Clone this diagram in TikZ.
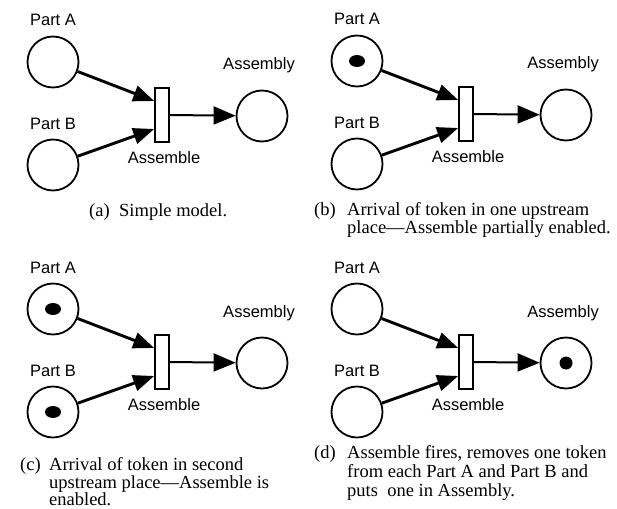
\documentclass[tikz,border=0pt]{standalone}
\usepackage{fontspec}
\setmainfont{Liberation Serif}
\newfontfamily\labfont{Liberation Sans}
\usetikzlibrary{arrows.meta,calc,shapes.geometric}
\tikzset{
  place/.style={circle,draw,line width=1.8pt,minimum size=51pt,inner sep=0pt},
  trans/.style={rectangle,draw,line width=1.6pt,fill=white,minimum width=14pt,minimum height=54pt,inner sep=0pt},
  lab/.style={font=\labfont\fontsize{16.5}{18}\selectfont,anchor=base,inner sep=0pt},
  captext/.style={font=\fontsize{18.5}{19}\selectfont,anchor=base west,inner sep=0pt},
  inarrow/.style={line width=2.9pt,-{Triangle[length=21pt,width=16pt]}},
  outarrow/.style={line width=2pt,-{Triangle[length=22pt,width=18pt]}},
  tokenoval/.style={ellipse,fill=black,minimum width=16pt,minimum height=12pt,inner sep=0pt},
  tokenround/.style={circle,fill=black,minimum size=13pt,inner sep=0pt},
}
\begin{document}
\begin{tikzpicture}[x=1pt,y=-1pt]
\useasboundingbox (0,0) rectangle (617,508);
\foreach \px/\py/\pre in {0/0/a,304/-1/b,0/247/c,304/247/d}{
\begin{scope}[shift={(\px,\py)},name prefix=\pre-]
  \node[place] (PA) at (53,62) {};
  \node[place] (PB) at (53,165) {};
  \node[trans] (T) at (162,115) {};
  \node[place] (AS) at (262,116) {};
  \node[lab] (lPA) at (53,26) {Part A};
  \node[lab] (lPB) at (53,129) {Part B};
  \node[lab] (lAS) at (259,70) {Assembly};
  \node[lab] (lT) at (164,163) {Assemble};
  \coordinate (ta) at ($(T.west)+(0,-14)$);
  \coordinate (tb) at ($(T.west)+(0,14)$);
  \draw[inarrow] (PA) -- (ta);
  \draw[inarrow] (PB) -- (tb);
  \draw[outarrow] (T.east) -- (AS);
\end{scope}
}
\node[tokenoval] (tb1) at (b-PA) {};
\node[tokenoval] (tc1) at (c-PA) {};
\node[tokenoval] (tc2) at (c-PB) {};
\node[tokenround] (td1) at (d-AS) {};
% captions
\node[captext] (ca0) at (89,216) {(a)};
\node[captext] (ca1) at (119,216) {Simple model.};
\node[captext] (cb0) at (314,215) {(b)};
\node[captext] (cb1) at (347,215) {Arrival of token in one upstream};
\node[captext] (cb2) at (347,233) {place---Assemble partially enabled.};
\node[captext] (cc0) at (20,470) {(c)};
\node[captext] (cc1) at (49,470) {Arrival of token in second};
\node[captext] (cc2) at (49,488) {upstream place---Assemble is};
\node[captext] (cc3) at (49,505) {enabled.};
\node[captext] (cd0) at (314,458) {(d)};
\node[captext] (cd1) at (347,458) {Assemble fires, removes one token};
\node[captext] (cd2) at (347,477) {from each Part A and Part B and};
\node[captext] (cd3) at (347,496) {puts\ \ one in Assembly.};
\end{tikzpicture}
\end{document}
